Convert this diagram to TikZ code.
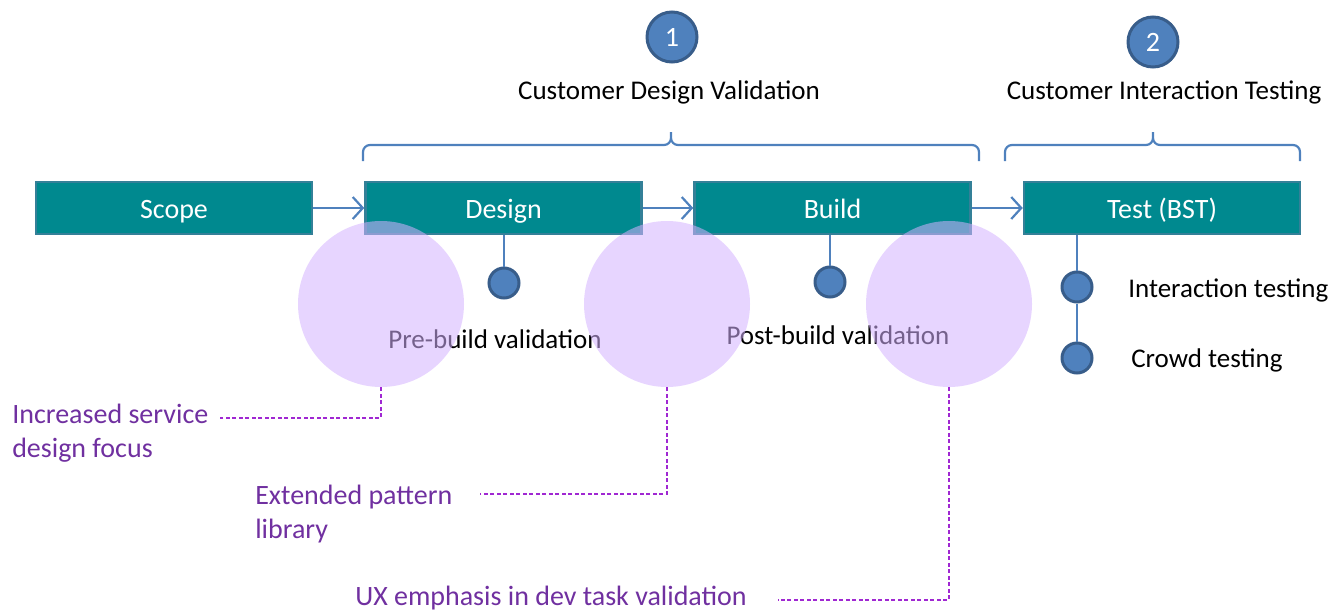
\documentclass[tikz,border=0pt]{standalone}
\usepackage{fontspec}
\setmainfont{Carlito}
\usetikzlibrary{arrows.meta}

\definecolor{stagefill}{RGB}{0,137,143}
\definecolor{stageline}{RGB}{52,128,152}
\definecolor{flowblue}{RGB}{79,129,189}
\definecolor{dotline}{RGB}{56,93,138}
\definecolor{lilac}{RGB}{212,178,255}
\definecolor{notepurple}{RGB}{112,48,160}
\definecolor{leadpurple}{RGB}{160,40,210}

\tikzset{every picture/.style={line width=0.55pt}}
\tikzset{
  stage/.style={draw=stageline,line width=2.5pt,fill=stagefill,text=white,minimum width=276pt,minimum height=52pt,inner sep=0pt,text height=22pt,text depth=2pt,font=\fontsize{28}{32}\selectfont},
  flow/.style={draw=flowblue,line width=2.2pt,-{Straight Barb[length=10pt,width=22pt,line width=2.2pt]}},
  stem/.style={draw=flowblue,line width=2.8pt},
  dot/.style={circle,draw=dotline,line width=3pt,fill=flowblue,minimum size=30pt,inner sep=0pt},
  numdot/.style={circle,draw=dotline,line width=3pt,fill=flowblue,minimum size=50pt,inner sep=0pt,text=white,font=\fontsize{28}{32}\selectfont},
  bracket/.style={draw=flowblue,line width=2.2pt,rounded corners=7pt},
  txt/.style={inner sep=0pt,font=\fontsize{27}{32}\selectfont},
  focus/.style={circle,fill=lilac,fill opacity=0.55,minimum size=166pt,inner sep=0pt},
  note/.style={inner sep=0pt,align=left,text=notepurple,font=\fontsize{28}{34}\selectfont},
  leader/.style={draw=leadpurple,line width=1.3pt,dash pattern={on 4pt off 2.5pt}}
}

\begin{document}
\begin{tikzpicture}[x=1pt,y=1pt,yscale=-1,xscale=1]
            \useasboundingbox (0,0) rectangle (1330,613);
            % stages
            \node [stage] (scope) at (174,208) {Scope};
            \node [stage] (design) at (503.5,208) {Design};
            \node [stage] (build) at (832.5,208) {Build};
            \node [stage] (test) at (1162,208) {Test (BST)};
            \draw [flow] (scope) -- (design);
            \draw [flow] (design) -- (build);
            \draw [flow] (build) -- (test);
            % phases
            \node [numdot] (one) at (672,37) {1};
            \node [numdot] (two) at (1153,42) {2};
            \node [txt] (cdv) at (669,92) {Customer Design Validation};
            \node [txt] (cit) at (1164,92) {Customer Interaction Testing};
            \draw [bracket] (363,161) |- (671,145) -- (671,128) -- (671,145) -| (979,161);
            \draw [bracket] (1005,161) |- (1153,145) -- (1153,128) -- (1153,145) -| (1300,161);
            % validation points
            \node [dot] (pre) at (504,283) {};
            \node [dot] (post) at (830,282) {};
            \node [dot] (inter) at (1077,287) {};
            \node [dot] (crowd) at (1077,358) {};
            \draw [stem] (design.south -| pre) -- (pre);
            \draw [stem] (build.south -| post) -- (post);
            \draw [stem] (test.south -| inter) -- (inter) -- (crowd);
            \node [txt] (pretxt) at (495,339) {Pre-build validation};
            \node [txt] (posttxt) at (838,335) {Post-build validation};
            \node [txt,anchor=west] (intertxt) at (1128,290) {Interaction testing};
            \node [txt,anchor=west] (crowdtxt) at (1131,360) {Crowd testing};
            % focus areas
            \node [focus] (f1) at (381,304) {};
            \node [focus] (f2) at (667,304) {};
            \node [focus] (f3) at (949,304) {};
            \node [note,anchor=north west] (n1) at (12,404) {Increased service\\design focus};
            \node [note,anchor=north west] (n2) at (255,485) {Extended pattern\\library};
            \node [note,anchor=west] (n3) at (355,598) {UX emphasis in dev task validation};
            \coordinate (e1) at (220,418);
            \coordinate (e2) at (480,494);
            \coordinate (e3) at (778,600);
            \draw [leader] (f1.south) |- (e1);
            \draw [leader] (f2.south) |- (e2);
            \draw [leader] (f3.south) |- (e3);
\end{tikzpicture}
\end{document}
